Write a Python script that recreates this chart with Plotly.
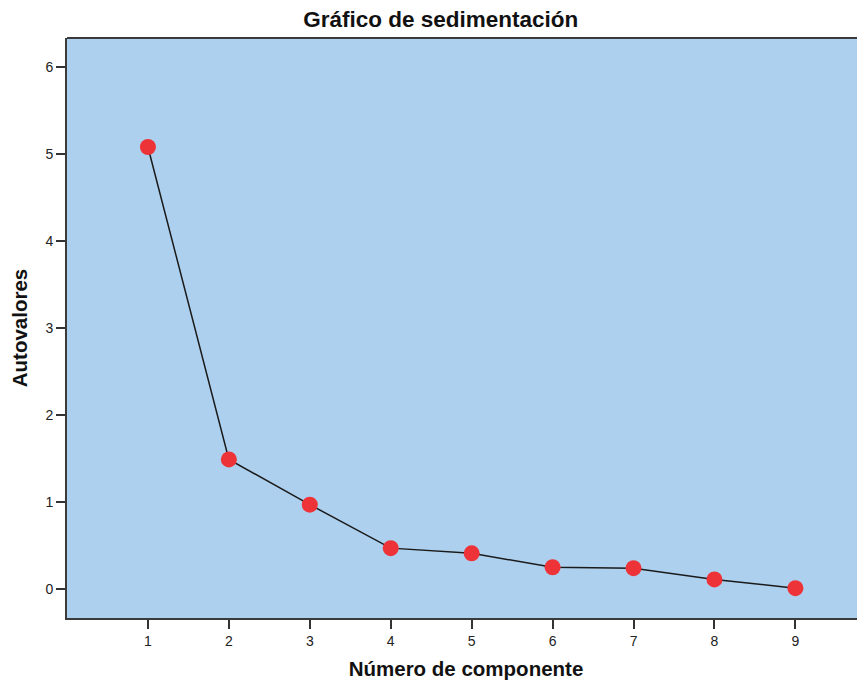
import plotly.graph_objects as go

# screen plot values
componentes = [1, 2, 3, 4, 5, 6, 7, 8, 9]
autovalores = [5.08, 1.49, 0.97, 0.47, 0.41, 0.25, 0.24, 0.11, 0.01]
x_ticks = [1, 2, 3, 4, 5, 6, 7, 8, 9]
y_ticks = [0, 1, 2, 3, 4, 5, 6]

FONT = 'Liberation Sans, Arial, sans-serif'

fig = go.Figure()

fig.add_trace(go.Scatter(
    x=componentes,
    y=autovalores,
    mode='lines+markers',
    line=dict(color='#1a1a1a', width=1.5),
    marker=dict(color='#EE3338', size=16),
    showlegend=False
))

axis_font = dict(family=FONT, size=14, color='#222222')
title_font = dict(family=FONT, size=20.5, color='#111111')

# page body has an 8px margin, so the figure is sized/offset to compensate
fig.update_layout(
    width=857,
    height=675,
    margin=dict(l=59, r=0, t=30, b=65),
    paper_bgcolor='white',
    plot_bgcolor='#ADD0EE',
    title=dict(
        text='<b>Gráfico de sedimentación</b>',
        x=0.505, xanchor='center', y=0.983, yanchor='middle',
        font=dict(family=FONT, size=22.5, color='#111111')
    ),
    xaxis=dict(
        range=[0, 9.86],
        tickvals=x_ticks,
        ticks='outside', ticklen=9, tickwidth=1.5, tickcolor='#333333',
        showgrid=False, zeroline=False,
        showline=True, linecolor='#3a3a3a', linewidth=2,
        tickfont=axis_font,
        title=dict(text='<b>Número de componente</b>', standoff=14, font=title_font)
    ),
    yaxis=dict(
        range=[-0.333, 6.333],
        tickvals=y_ticks,
        ticks='outside', ticklen=9, tickwidth=1.5, tickcolor='#333333',
        showgrid=False, zeroline=False,
        showline=True, linecolor='#3a3a3a', linewidth=2,
        tickfont=axis_font,
        title=dict(text='<b>Autovalores</b>', standoff=12, font=title_font)
    ),
    shapes=[dict(type='line', xref='paper', yref='paper', x0=0, x1=1, y0=1, y1=1,
                 line=dict(color='#3a3a3a', width=2))]
)

fig.write_html("out.html")
